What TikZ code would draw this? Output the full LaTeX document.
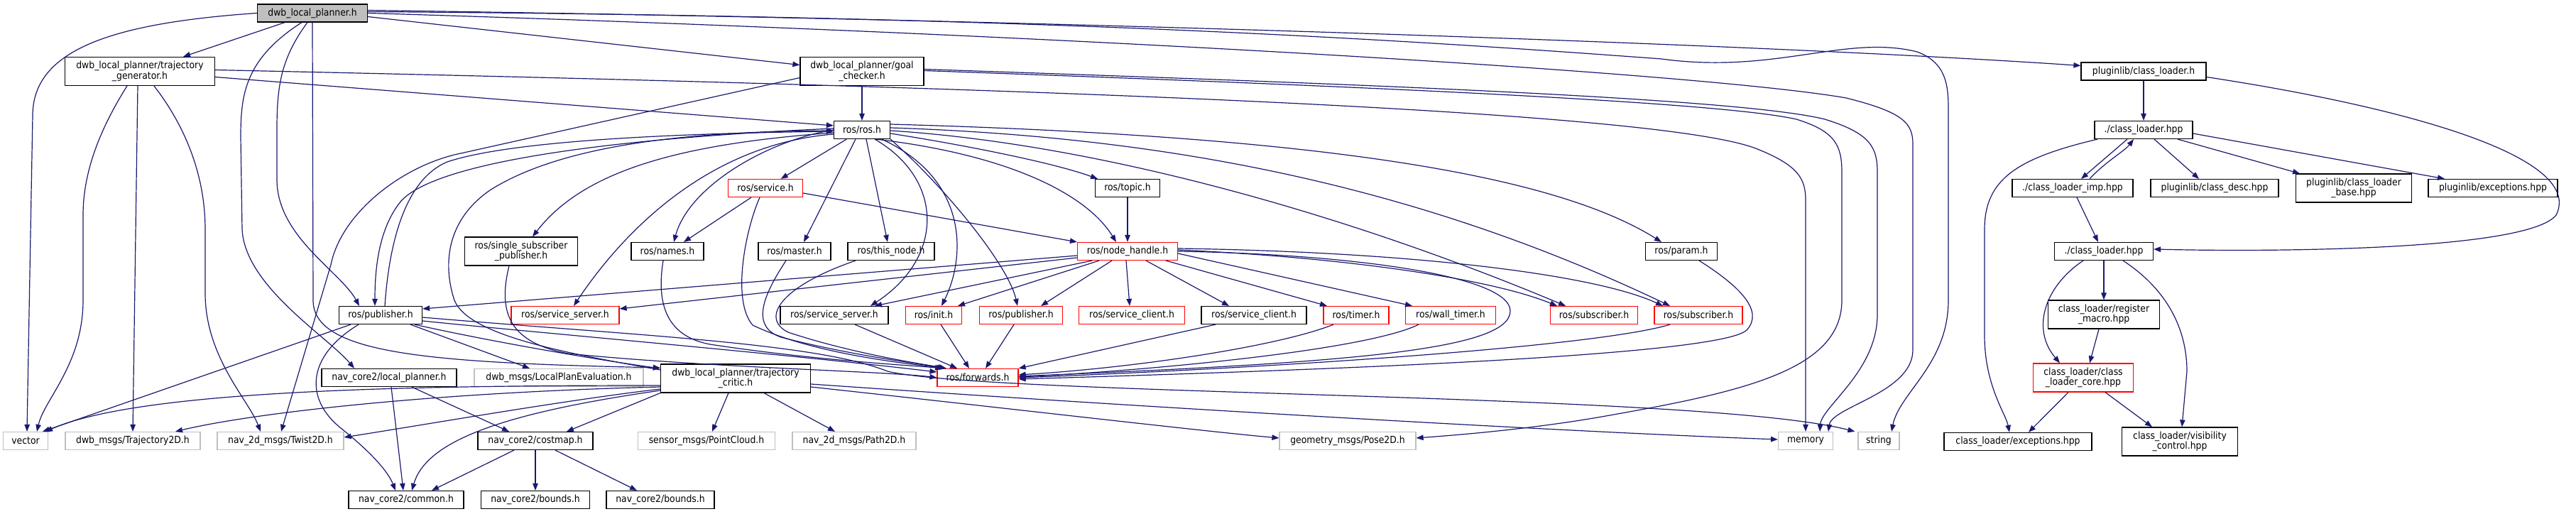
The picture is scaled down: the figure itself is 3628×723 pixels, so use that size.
\documentclass[tikz,border=0pt]{standalone}
\usepackage{fontspec}
\setmainfont{DejaVu Sans Condensed}
\usetikzlibrary{arrows.meta}
\definecolor{depEdge}{RGB}{25,25,112}
\definecolor{depGray}{RGB}{191,191,191}
\definecolor{depRed}{RGB}{255,0,0}
\newcommand\depfont{\fontsize{13.8}{14.5}\selectfont}

\begin{document}
\begin{tikzpicture}[x=1pt,y=1pt,
      file/.style={draw=black,line width=1.2pt,fill=white,inner sep=1pt,minimum height=25pt,align=center,font=\depfont},
      ext/.style={file,draw=depGray},
      trunc/.style={file,draw=depRed},
      root/.style={file,fill=depGray},
      two/.style={minimum height=40pt},
      dep/.style={depEdge,line width=1.2pt,-{Triangle[length=10pt,width=7.5pt]}}]
    \useasboundingbox (0,0) rectangle (3628,723);
    \node[root,minimum width=155pt] (root) at (440,704.5) {dwb\_local\_planner.h};
    \node[file,two,minimum width=211pt] (tg) at (197,622.5) {dwb\_local\_planner/trajectory\\\_generator.h};
    \node[file,two,minimum width=174pt] (gc) at (1214,622.5) {dwb\_local\_planner/goal\\\_checker.h};
    \node[file,minimum width=176pt] (plcl) at (3019,622.5) {pluginlib/class\_loader.h};
    \node[file,minimum width=79pt] (ros) at (1214,540) {ros/ros.h};
    \node[file,minimum width=138pt] (clh) at (3019,540) {./class\_loader.hpp};
    \node[trunc,minimum width=105pt] (svc) at (1078,458) {ros/service.h};
    \node[file,minimum width=91pt] (topic) at (1588,458) {ros/topic.h};
    \node[file,minimum width=170pt] (climp) at (2919,458) {./class\_loader\_imp.hpp};
    \node[file,minimum width=180pt] (cdesc) at (3119,458) {pluginlib/class\_desc.hpp};
    \node[file,two,minimum width=163pt] (clbase) at (3315,458) {pluginlib/class\_loader\\\_base.hpp};
    \node[file,minimum width=182pt] (plexc) at (3511,458) {pluginlib/exceptions.hpp};
    \node[file,two,minimum width=159pt] (ssp) at (734,369) {ros/single\_subscriber\\\_publisher.h};
    \node[file,minimum width=102pt] (names) at (940,369) {ros/names.h};
    \node[file,minimum width=102pt] (master) at (1119,369) {ros/master.h};
    \node[file,minimum width=122pt] (thisnode) at (1255,369) {ros/this\_node.h};
    \node[trunc,minimum width=141pt] (nh) at (1588,369) {ros/node\_handle.h};
    \node[file,minimum width=101pt] (param) at (2368,369) {ros/param.h};
    \node[file,minimum width=139pt] (clh2) at (2963,369) {./class\_loader.hpp};
    \node[file,minimum width=117pt] (pubL) at (536,279) {ros/publisher.h};
    \node[trunc,minimum width=152pt] (ssR) at (796,279) {ros/service\_server.h};
    \node[file,minimum width=152pt] (ssB) at (1175,279) {ros/service\_server.h};
    \node[trunc,minimum width=79pt] (init) at (1315,279) {ros/init.h};
    \node[trunc,minimum width=117pt] (pubR) at (1438,279) {ros/publisher.h};
    \node[trunc,minimum width=149pt] (scR) at (1594,279) {ros/service\_client.h};
    \node[file,minimum width=148pt] (scB) at (1766,279) {ros/service\_client.h};
    \node[trunc,minimum width=92pt] (timer) at (1910,279) {ros/timer.h};
    \node[trunc,minimum width=127pt] (wt) at (2043,279) {ros/wall\_timer.h};
    \node[trunc,minimum width=123pt] (sub1) at (2245,279) {ros/subscriber.h};
    \node[trunc,minimum width=124pt] (sub2) at (2392,279) {ros/subscriber.h};
    \node[file,two,minimum width=157pt] (reg) at (2963,280) {class\_loader/register\\\_macro.hpp};
    \node[file,minimum width=190pt] (lp) at (548,191) {nav\_core2/local\_planner.h};
    \node[ext,minimum width=238pt] (lpe) at (787,191) {dwb\_msgs/LocalPlanEvaluation.h};
    \node[file,two,minimum width=211pt] (tc) at (1036,190) {dwb\_local\_planner/trajectory\\\_critic.h};
    \node[trunc,minimum width=114pt] (fwd) at (1377,191) {ros/forwards.h};
    \node[trunc,two,minimum width=141pt] (core) at (2934,191) {class\_loader/class\\\_loader\_core.hpp};
    \node[ext,minimum width=63pt] (vec) at (36,102) {vector};
    \node[ext,minimum width=190pt] (t2d) at (187,102) {dwb\_msgs/Trajectory2D.h};
    \node[ext,minimum width=178pt] (tw) at (395,102) {nav\_2d\_msgs/Twist2D.h};
    \node[file,minimum width=162pt] (cm) at (754,102) {nav\_core2/costmap.h};
    \node[ext,minimum width=193pt] (pc) at (995,102) {sensor\_msgs/PointCloud.h};
    \node[ext,minimum width=174pt] (path) at (1203,102) {nav\_2d\_msgs/Path2D.h};
    \node[ext,minimum width=192pt] (pose) at (1898,102) {geometry\_msgs/Pose2D.h};
    \node[ext,minimum width=77pt] (mem) at (2543,102) {memory};
    \node[ext,minimum width=58pt] (str) at (2646,102) {string};
    \node[file,minimum width=208pt] (clexc) at (2842,101) {class\_loader/exceptions.hpp};
    \node[file,two,minimum width=163pt] (vis) at (3070,101) {class\_loader/visibility\\\_control.hpp};
    \node[file,minimum width=162pt] (common) at (572,19) {nav\_core2/common.h};
    \node[file,minimum width=153pt] (b1) at (754,19) {nav\_core2/bounds.h};
    \node[file,minimum width=152pt] (b2) at (930,19) {nav\_core2/bounds.h};
    % root
    \draw[dep] (root) -- (tg);
    \draw[dep] (root.west) .. controls (150,690) and (46,650) .. (46,560) -- ([xshift=2pt]vec.north);
    \draw[dep] ([xshift=-15pt]root.south) .. controls (345,640) and (339,590) .. (339,530) -- (341,400) .. controls (345,320) and (460,250) .. ([xshift=-49pt]lp.north);
    \draw[dep] ([xshift=-7pt]root.south) .. controls (395,640) and (390,600) .. (390,540) -- (390,470) .. controls (390,390) and (480,340) .. ([xshift=-30pt]pubL.north);
    \draw[dep] (root.south) -- (441,300) .. controls (441,225) and (600,212) .. ([yshift=15pt]tc.west);
    \draw[dep] ([yshift=-5pt]root.east) -- ([yshift=9pt]gc.west);
    \draw[dep] ([yshift=4pt]root.east) .. controls (1500,695) and (2500,660) .. ([yshift=8pt]plcl.west);
    \draw[dep] ([yshift=2pt]root.east) .. controls (1500,700) and (2000,665) .. (2340,640) .. controls (2500,618) and (2600,675) .. (2700,650) .. controls (2740,635) and (2744,605) .. (2744,570) -- (2744,300) .. controls (2744,210) and (2675,170) .. ([xshift=18pt]str.north);
    \draw[dep] (root.east) .. controls (1500,675) and (2400,620) .. (2600,585) .. controls (2680,565) and (2694,550) .. (2694,520) -- (2694,230) .. controls (2694,170) and (2580,150) .. ([xshift=32pt]mem.north);
    % trajectory generator
    \draw[dep] ([xshift=-18pt]tg.south) .. controls (140,540) and (117,480) .. (117,420) -- (117,300) .. controls (117,210) and (62,160) .. ([xshift=16pt]vec.north);
    \draw[dep] ([xshift=-3pt]tg.south) -- (t2d.north);
    \draw[dep] ([xshift=20pt]tg.south) .. controls (265,540) and (289,470) .. (289,400) -- (289,310) .. controls (289,220) and (350,160) .. ([xshift=-28pt]tw.north);
    \draw[dep] ([yshift=2pt]tg.east) .. controls (1200,605) and (2300,575) .. (2470,515) .. controls (2535,490) and (2543,470) .. (2543,440) -- (mem.north);
    \draw[dep] ([yshift=-8pt]tg.east) -- ([yshift=6pt]ros.west);
    % goal checker
    \draw[dep] (gc) -- (ros);
    \draw[dep] ([yshift=-9pt]gc.west) -- (640,505) .. controls (560,485) and (480,420) .. (466,350) -- ([xshift=1pt]tw.north);
    \draw[dep] ([yshift=3pt]gc.east) .. controls (1900,605) and (2450,585) .. (2570,555) .. controls (2635,535) and (2644,515) .. (2644,480) -- (2644,280) .. controls (2644,200) and (2565,150) .. ([xshift=20pt]mem.north);
    \draw[dep] ([yshift=1pt]gc.east) .. controls (1900,602) and (2420,580) .. (2530,555) .. controls (2585,538) and (2594,518) .. (2594,480) -- (2594,300) .. controls (2594,200) and (2450,170) .. (2250,135) .. controls (2150,118) and (2050,110) .. ([yshift=4pt]pose.east);
    % ros.h
    \draw[dep] (ros) -- (svc);
    \draw[dep] (ros.west) .. controls (1080,525) and (970,460) .. ([xshift=9pt]names.north);
    \draw[dep] ([xshift=-20pt]svc.south) -- ([xshift=23pt]names.north);
    \draw[dep] ([xshift=-9pt]ros.south) -- ([xshift=13pt]master.north);
    \draw[dep] ([xshift=6pt]ros.south) -- ([xshift=-5pt]thisnode.north);
    \draw[dep] ([yshift=-5pt]ros.east) .. controls (1350,520) and (1480,495) .. ([xshift=-42pt]topic.north);
    \draw[dep] (topic) -- (nh);
    \draw[dep] ([xshift=20pt]ros.south) .. controls (1420,505) and (1530,450) .. ([xshift=-16pt]nh.north);
    \draw[dep] ([yshift=-7pt]svc.east) -- (nh.north west);
    \draw[dep] ([yshift=8pt]ros.east) .. controls (1900,530) and (2200,470) .. ([xshift=-28pt]param.north);
    \draw[dep] ([yshift=-1pt]ros.east) .. controls (1550,520) and (1900,420) .. ([xshift=-40pt]sub1.north);
    \draw[dep] ([yshift=3pt]ros.east) .. controls (1650,530) and (2000,460) .. ([xshift=-40pt]sub2.north);
    \draw[dep] ([xshift=18pt]ros.south) .. controls (1330,470) and (1330,360) .. ([xshift=51pt]ssB.north);
    \draw[dep] ([xshift=28pt]ros.south) .. controls (1365,470) and (1360,360) .. ([xshift=11pt]init.north);
    \draw[dep] (ros.south east) .. controls (1330,460) and (1420,350) .. ([xshift=-5pt]pubR.north);
    \draw[dep] ([yshift=2pt]ros.west) .. controls (900,530) and (620,500) .. (565,440) .. controls (532,400) and (528,340) .. ([xshift=-8pt]pubL.north);
    \draw[dep] ([xshift=6pt]pubL.north) .. controls (548,380) and (570,470) .. (630,495) .. controls (720,525) and (950,535) .. ([yshift=-2pt]ros.west);
    \draw[dep] ([yshift=-4pt]ros.west) .. controls (950,520) and (820,480) .. ([xshift=16pt]ssp.north);
    \draw[dep] ([yshift=-6pt]ros.west) .. controls (1000,520) and (880,400) .. ([xshift=12pt]ssR.north);
    \draw[dep] ([yshift=12pt]tc.west) .. controls (800,225) and (660,250) .. (640,300) .. controls (625,345) and (625,410) .. (690,455) .. controls (800,525) and (1000,538) .. ([yshift=-1pt]ros.west);
    % node_handle.h
    \draw[dep] ([xshift=-50pt]nh.south) -- ([xshift=57pt]ssB.north);
    \draw[dep] ([xshift=-40pt]nh.south) -- ([xshift=34pt]init.north);
    \draw[dep] ([xshift=-22pt]nh.south) -- ([xshift=28pt]pubR.north);
    \draw[dep] ([xshift=-2pt]nh.south) -- ([xshift=-3pt]scR.north);
    \draw[dep] ([xshift=26pt]nh.south) -- ([xshift=-35pt]scB.north);
    \draw[dep] ([xshift=54pt]nh.south) -- ([xshift=-41pt]timer.north);
    \draw[dep] ([yshift=-3pt]nh.east) -- ([xshift=-54pt]wt.north);
    \draw[dep] ([yshift=2pt]nh.east) .. controls (1900,360) and (2100,330) .. ([xshift=-52pt]sub1.north);
    \draw[dep] ([yshift=4pt]nh.east) .. controls (2000,368) and (2250,335) .. ([xshift=-50pt]sub2.north);
    \draw[dep] (nh.east) .. controls (1900,365) and (2127,335) .. (2127,285) .. controls (2127,230) and (1900,212) .. ([yshift=2pt]fwd.east);
    \draw[dep] ([yshift=-6pt]nh.west) -- ([yshift=9pt]pubL.east);
    \draw[dep] ([yshift=-9pt]nh.west) -- ([yshift=9pt]ssR.east);
    % forwards.h
    \draw[dep] ([xshift=29pt]ssB.south) -- ([xshift=-29pt]fwd.north);
    \draw[dep] ([xshift=10pt]init.south) -- ([xshift=-12pt]fwd.north);
    \draw[dep] ([xshift=-10pt]pubR.south) -- ([xshift=11pt]fwd.north);
    \draw[dep] ([xshift=-54pt]scB.south) -- (fwd.north east);
    \draw[dep] ([xshift=-32pt]timer.south) .. controls (1800,235) and (1600,205) .. ([yshift=4pt]fwd.east);
    \draw[dep] ([xshift=-45pt]wt.south) .. controls (1920,228) and (1600,200) .. ([yshift=1pt]fwd.east);
    \draw[dep] ([xshift=-40pt]sub2.south) .. controls (2250,235) and (1800,205) .. (fwd.east);
    \draw[dep] ([xshift=25pt]param.south) .. controls (2450,320) and (2485,285) .. (2460,258) .. controls (2420,220) and (1800,200) .. ([yshift=-2pt]fwd.east);
    \draw[dep] ([xshift=-6pt]names.south) .. controls (925,300) and (935,250) .. (1000,238) .. controls (1150,215) and (1290,208) .. ([xshift=-50pt]fwd.north);
    \draw[dep] ([xshift=-12pt]master.south) .. controls (1070,300) and (1060,262) .. (1100,248) .. controls (1200,222) and (1300,210) .. ([xshift=-46pt]fwd.north);
    \draw[dep] ([xshift=-50pt]thisnode.south) .. controls (1100,320) and (1070,275) .. (1110,255) .. controls (1200,225) and (1300,210) .. ([xshift=-44pt]fwd.north);
    \draw[dep] ([xshift=-8pt]svc.south) .. controls (1050,400) and (1030,300) .. (1060,265) .. controls (1150,222) and (1290,210) .. ([xshift=-48pt]fwd.north);
    \draw[dep] ([xshift=-17pt]ssp.south) .. controls (700,280) and (720,240) .. (800,225) .. controls (1000,205) and (1250,200) .. (fwd.west);
    \draw[dep] ([yshift=-8pt]pubL.east) .. controls (750,255) and (1100,225) .. ([yshift=8pt]fwd.west);
    % publisher.h and trajectory_critic.h
    \draw[dep] ([xshift=48pt]pubL.south) .. controls (700,240) and (850,215) .. ([yshift=14pt]tc.west);
    \draw[dep] ([yshift=-3pt]pubL.east) .. controls (900,250) and (1150,240) .. (1250,200) .. controls (1400,165) and (2400,170) .. ([xshift=-4pt]str.north west);
    \draw[dep] ([xshift=-31pt]pubL.south) .. controls (430,220) and (430,160) .. (480,120) .. controls (530,80) and (548,55) .. ([xshift=-15pt]common.north);
    \draw[dep] ([xshift=-42pt]pubL.south) -- ([xshift=24pt]vec.north);
    \draw[dep] ([xshift=42pt]pubL.south) -- ([xshift=-41pt]lpe.north);
    \draw[dep] ([yshift=-10pt]tc.west) .. controls (600,180) and (200,175) .. ([xshift=28pt]vec.north);
    \draw[dep] ([yshift=-12pt]tc.west) .. controls (600,170) and (350,140) .. ([xshift=60pt]t2d.north);
    \draw[dep] ([yshift=-15pt]tc.west) .. controls (800,160) and (600,125) .. ([yshift=5pt]tw.east);
    \draw[dep] (tc.south west) -- ([xshift=44pt]cm.north);
    \draw[dep] ([yshift=-17pt]tc.west) .. controls (700,140) and (600,100) .. ([xshift=8pt]common.north);
    \draw[dep] ([xshift=-10pt]tc.south) -- ([xshift=8pt]pc.north);
    \draw[dep] ([xshift=40pt]tc.south) -- ([xshift=-27pt]path.north);
    \draw[dep] ([yshift=-12pt]tc.east) .. controls (1400,150) and (1700,115) .. ([yshift=4pt]pose.west);
    \draw[dep] ([yshift=-8pt]tc.east) .. controls (1600,150) and (2200,115) .. ([yshift=2pt]mem.west);
    % costmap
    \draw[dep] ([xshift=3pt]lp.south) -- ([xshift=-4pt]common.north);
    \draw[dep] ([xshift=32pt]lp.south) -- ([xshift=-37pt]cm.north);
    \draw[dep] ([xshift=-30pt]cm.south) -- ([xshift=36pt]common.north);
    \draw[dep] (cm) -- (b1);
    \draw[dep] ([xshift=28pt]cm.south) -- ([xshift=-33pt]b2.north);
    % class loader
    \draw[dep] (plcl) -- (clh);
    \draw[dep] ([yshift=-8pt]plcl.east) .. controls (3400,570) and (3640,500) .. (3600,420) .. controls (3560,370) and (3200,368) .. ([yshift=3pt]clh2.east);
    \draw[dep] ([xshift=-23pt]clh.south) -- ([xshift=12pt]climp.north);
    \draw[dep] ([xshift=24pt]climp.north) .. controls (2965,495) and (2992,510) .. ([xshift=-14pt]clh.south);
    \draw[dep] ([xshift=15pt]clh.south) -- ([xshift=-22pt]cdesc.north);
    \draw[dep] ([xshift=48pt]clh.south) -- ([xshift=-76pt]clbase.north);
    \draw[dep] ([yshift=-5pt]clh.east) -- ([xshift=-68pt]plexc.north);
    \draw[dep] ([xshift=-65pt]clh.south) .. controls (2840,500) and (2795,470) .. (2795,400) -- (2795,250) .. controls (2795,180) and (2825,140) .. ([xshift=-12pt]clexc.north);
    \draw[dep] ([xshift=6pt]climp.south) -- ([xshift=-8pt]clh2.north);
    \draw[dep] (clh2) -- (reg);
    \draw[dep] ([xshift=-29pt]clh2.south) .. controls (2880,320) and (2860,260) .. ([xshift=-33pt]core.north);
    \draw[dep] ([xshift=-7pt]reg.south) -- ([xshift=9pt]core.north);
    \draw[dep] ([xshift=27pt]clh2.south) .. controls (3060,310) and (3080,250) .. (3080,200) -- ([xshift=3pt]vis.north);
    \draw[dep] ([xshift=-21pt]core.south) -- ([xshift=15pt]clexc.north);
    \draw[dep] ([xshift=31pt]core.south) -- ([xshift=-39pt]vis.north);
\end{tikzpicture}
\end{document}
